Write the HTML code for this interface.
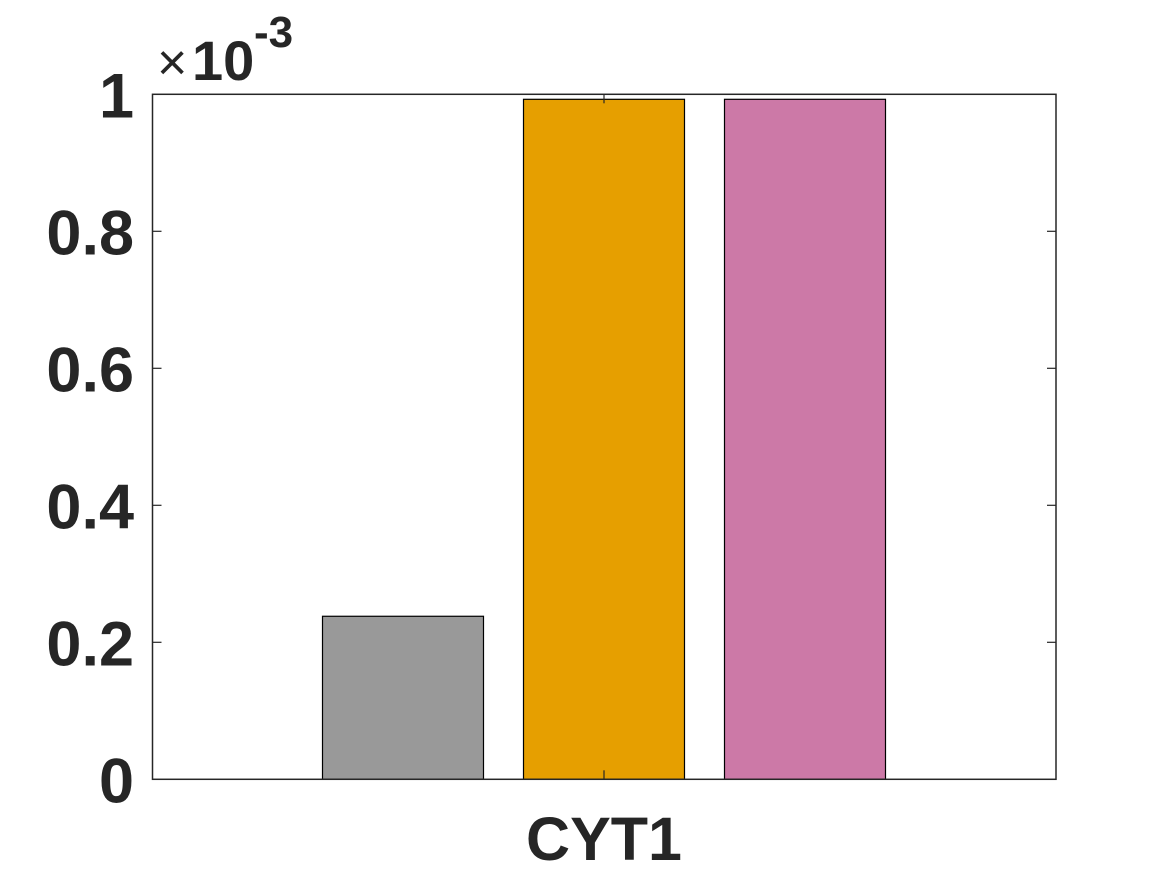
<!DOCTYPE html>
<html><head><meta charset="utf-8"><style>
html,body{margin:0;padding:0;background:#fff;}
svg{display:block;font-family:"Liberation Sans",Arial,sans-serif;}
</style></head><body>
<svg id="chart" width="1167" height="875">
<rect x="0" y="0" width="1167" height="875" fill="#fff"/>
<g id="bars"></g>
<g id="axes"></g>
<g fill="#262626">
<text x="157" y="80" font-size="52" font-weight="normal">×</text>
<text x="192" y="80" font-size="56" font-weight="bold">10</text>
<text x="254" y="47" font-size="44" font-weight="bold">-3</text>
</g>
</svg>
<script>
const categories = ["CYT1"];
const seriesNames = ["grey","orange","pink"];
const seriesValues = [0.238, 0.9927, 0.9927];
const seriesColors = ["#999999","#e69f00","#cc79a7"];
const yTicks = [0, 0.2, 0.4, 0.6, 0.8, 1];
const yTickLabels = ["0","0.2","0.4","0.6","0.8","1"];

const L=152.5,R=1056,T=94.3,B=779.3;
const yMin=0,yMax=1;
const y=v=>B-(v-yMin)/(yMax-yMin)*(B-T);
const xc=604, barW=161, step=201;
const NS="http://www.w3.org/2000/svg";
const bars=document.getElementById('bars'), axes=document.getElementById('axes');
function mk(tag,attrs,parent){const e=document.createElementNS(NS,tag);for(const k in attrs)e.setAttribute(k,attrs[k]);parent.appendChild(e);return e;}

seriesValues.forEach((v,i)=>{
  const cx=xc+(i-(seriesValues.length-1)/2)*step;
  const r=mk('rect',{x:cx-barW/2,y:y(v),width:barW,height:B-y(v),fill:seriesColors[i],stroke:'#000','stroke-width':1.2},bars);
  
  
});

const box=mk('rect',{x:L,y:T,width:R-L,height:B-T,fill:'none',stroke:'#262626','stroke-width':1.5},axes);



yTicks.forEach((t,i)=>{
  const yy=y(t);
  if(i>0&&i<yTicks.length-1){
    mk('line',{x1:L,x2:L+9,y1:yy,y2:yy,stroke:'#262626','stroke-width':1.2},axes);
    mk('line',{x1:R,x2:R-9,y1:yy,y2:yy,stroke:'#262626','stroke-width':1.2},axes);
  }
  const tx=mk('text',{x:134,y:yy+23,'text-anchor':'end','font-size':63,'font-weight':'bold',fill:'#262626'},axes);
  tx.textContent=yTickLabels[i];
  
  
});

mk('line',{x1:xc,x2:xc,y1:B,y2:B-9,stroke:'#262626','stroke-width':1.2},axes);
mk('line',{x1:xc,x2:xc,y1:T,y2:T+9,stroke:'#262626','stroke-width':1.2},axes);
const xl=mk('text',{x:xc,y:860,'text-anchor':'middle','font-size':61,'font-weight':'bold',fill:'#262626'},axes);
xl.textContent=categories[0];


</script>
</body></html>
